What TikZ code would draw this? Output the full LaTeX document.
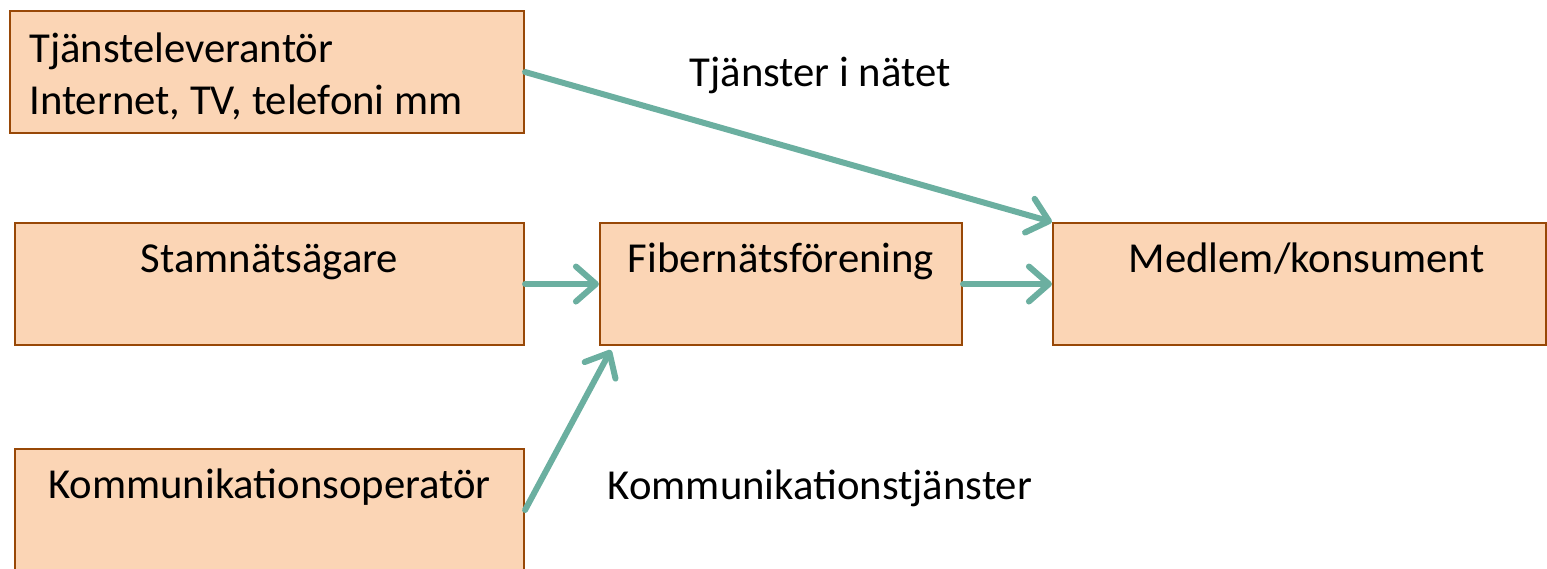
\documentclass[tikz,border=0pt]{standalone}
\usepackage{fontspec}
\setmainfont{Carlito}
\usetikzlibrary{arrows.meta}

\definecolor{boxfill}{HTML}{FBD5B5}
\definecolor{boxline}{HTML}{984807}
\definecolor{flow}{RGB}{107,175,160}

\begin{document}
\begin{tikzpicture}[>/.tip={Straight Barb[length=0.4cm,width=0.7cm,line cap=round,line join=round]},
	every node/.style={font=\fontsize{24.3}{30}\selectfont},
	actor/.style={draw=boxline,line width=1.2pt,fill=boxfill,minimum height=2.44cm,inner sep=0pt},
	flowline/.style={->,draw=flow,line width=0.12cm,line cap=round}]
	\useasboundingbox (0,0) rectangle (30.94,-11.36);
	\draw (5.34,-1.44) node(tjanst) [actor,minimum width=10.28cm] {};
	\node (tjanstlbl) [anchor=base west,align=left,inner sep=0pt] at ([xshift=0.4cm,yshift=-2.1cm]tjanst.north west) {Tjänsteleverantör\\Internet, TV, telefoni mm};
	\draw (5.39,-5.68) node(stamnat) [actor,minimum width=10.18cm] {};
	\node (stamnatlbl) [anchor=base,inner sep=0pt] at ([yshift=-1.02cm]stamnat.north) {Stamnätsägare};
	\draw (15.62,-5.68) node(fiber) [actor,minimum width=7.24cm] {};
	\node (fiberlbl) [anchor=base,inner sep=0pt] at ([yshift=-1.02cm]fiber.north) {Fibernätsförening};
	\draw (25.99,-5.68) node(medlem) [actor,minimum width=9.86cm] {};
	\node (medlemlbl) [anchor=base,inner sep=0pt] at ([xshift=0.14cm,yshift=-1.02cm]medlem.north) {Medlem/konsument};
	\draw (5.39,-10.2) node(komm) [actor,minimum width=10.18cm] {};
	\node (kommlbl) [anchor=base,inner sep=0pt] at ([yshift=-1.02cm]komm.north) {Kommunikationsoperatör};
	\node (tjanstertxt) at (16.4,-1.5) {Tjänster i nätet};
	\node (kommtxt) at (16.4,-9.76) {Kommunikationstjänster};
	\draw[flowline] (tjanst.east) -- (medlem.north west);
	\draw[flowline] (stamnat) -- (fiber);
	\draw[flowline] (fiber) -- (medlem);
	\draw[flowline] (komm.east) -- ([xshift=0.24cm,yshift=-0.08cm]fiber.south west);
\end{tikzpicture}
\end{document}
